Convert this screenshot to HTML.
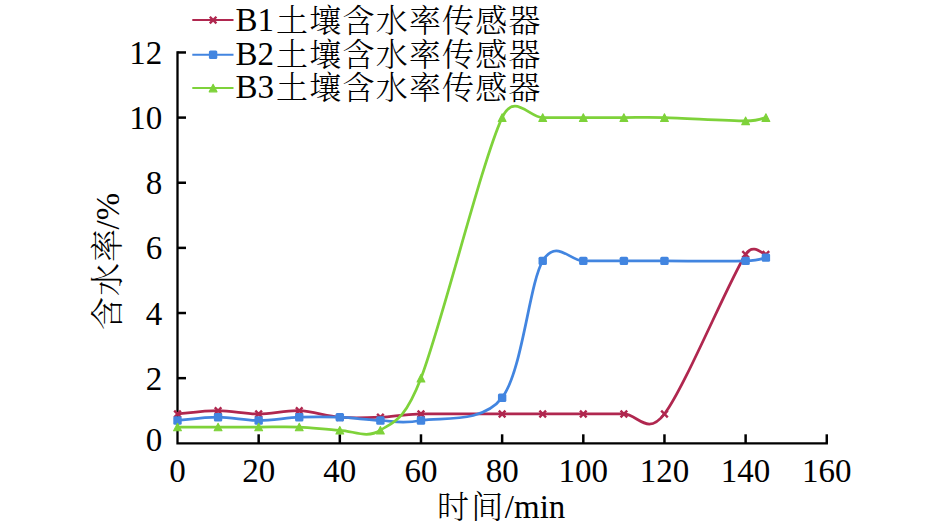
<!DOCTYPE html>
<html><head><meta charset="utf-8"><style>
html,body{margin:0;padding:0;background:#fff;}
svg{display:block;}
.t{font-family:"Liberation Serif","Noto Serif CJK SC",serif;font-size:33px;fill:#000;}
.c{font-family:"Liberation Serif","Noto Serif CJK SC",serif;font-size:33px;font-weight:300;fill:#000;}
</style></head><body>
<svg width="945" height="529" viewBox="0 0 945 529">
<path d="M177.5,52.46 V443.3 H826.78" stroke="#000" stroke-width="2.3" fill="none" stroke-linecap="square"/>
<path d="M177.5,378.16 H186.0" stroke="#000" stroke-width="2.5"/>
<path d="M177.5,313.02 H186.0" stroke="#000" stroke-width="2.5"/>
<path d="M177.5,247.88 H186.0" stroke="#000" stroke-width="2.5"/>
<path d="M177.5,182.74 H186.0" stroke="#000" stroke-width="2.5"/>
<path d="M177.5,117.60 H186.0" stroke="#000" stroke-width="2.5"/>
<path d="M177.5,52.46 H186.0" stroke="#000" stroke-width="2.5"/>
<path d="M258.66,443.3 V434.30" stroke="#000" stroke-width="2.5"/>
<path d="M339.82,443.3 V434.30" stroke="#000" stroke-width="2.5"/>
<path d="M420.98,443.3 V434.30" stroke="#000" stroke-width="2.5"/>
<path d="M502.14,443.3 V434.30" stroke="#000" stroke-width="2.5"/>
<path d="M583.30,443.3 V434.30" stroke="#000" stroke-width="2.5"/>
<path d="M664.46,443.3 V434.30" stroke="#000" stroke-width="2.5"/>
<path d="M745.62,443.3 V434.30" stroke="#000" stroke-width="2.5"/>
<path d="M826.78,443.3 V434.30" stroke="#000" stroke-width="2.5"/>
<path d="M177.50,413.99 C184.26,413.44 204.55,410.73 218.08,410.73 C231.61,410.73 245.13,413.99 258.66,413.99 C272.19,413.99 285.71,410.19 299.24,410.73 C312.77,411.27 326.29,416.16 339.82,417.24 C353.35,418.33 366.87,417.79 380.40,417.24 C393.93,416.70 400.69,414.53 420.98,413.99 C441.27,413.44 481.85,413.99 502.14,413.99 C522.43,413.99 529.19,413.99 542.72,413.99 C556.25,413.99 569.77,413.99 583.30,413.99 C596.83,413.99 610.35,413.99 623.88,413.99 C637.41,413.99 647.23,436.57 664.46,413.99 C684.75,387.39 728.71,280.99 745.62,254.39 C753.24,242.41 762.53,254.39 765.91,254.39" stroke="#B0274F" stroke-width="2.75" fill="none" stroke-linejoin="round"/>
<path d="M174.20,410.69L180.80,417.29M174.20,417.29L180.80,410.69" stroke="#B0274F" stroke-width="2.4" fill="none"/>
<path d="M214.78,407.43L221.38,414.03M214.78,414.03L221.38,407.43" stroke="#B0274F" stroke-width="2.4" fill="none"/>
<path d="M255.36,410.69L261.96,417.29M255.36,417.29L261.96,410.69" stroke="#B0274F" stroke-width="2.4" fill="none"/>
<path d="M295.94,407.43L302.54,414.03M295.94,414.03L302.54,407.43" stroke="#B0274F" stroke-width="2.4" fill="none"/>
<path d="M336.52,413.94L343.12,420.54M336.52,420.54L343.12,413.94" stroke="#B0274F" stroke-width="2.4" fill="none"/>
<path d="M377.10,413.94L383.70,420.54M377.10,420.54L383.70,413.94" stroke="#B0274F" stroke-width="2.4" fill="none"/>
<path d="M417.68,410.69L424.28,417.29M417.68,417.29L424.28,410.69" stroke="#B0274F" stroke-width="2.4" fill="none"/>
<path d="M498.84,410.69L505.44,417.29M498.84,417.29L505.44,410.69" stroke="#B0274F" stroke-width="2.4" fill="none"/>
<path d="M539.42,410.69L546.02,417.29M539.42,417.29L546.02,410.69" stroke="#B0274F" stroke-width="2.4" fill="none"/>
<path d="M580.00,410.69L586.60,417.29M580.00,417.29L586.60,410.69" stroke="#B0274F" stroke-width="2.4" fill="none"/>
<path d="M620.58,410.69L627.18,417.29M620.58,417.29L627.18,410.69" stroke="#B0274F" stroke-width="2.4" fill="none"/>
<path d="M661.16,410.69L667.76,417.29M661.16,417.29L667.76,410.69" stroke="#B0274F" stroke-width="2.4" fill="none"/>
<path d="M742.32,251.09L748.92,257.69M742.32,257.69L748.92,251.09" stroke="#B0274F" stroke-width="2.4" fill="none"/>
<path d="M762.61,251.09L769.21,257.69M762.61,257.69L769.21,251.09" stroke="#B0274F" stroke-width="2.4" fill="none"/>
<path d="M177.50,420.50 C184.26,419.96 204.55,417.24 218.08,417.24 C231.61,417.24 245.13,420.50 258.66,420.50 C272.19,420.50 285.71,417.79 299.24,417.24 C312.77,416.70 326.29,416.70 339.82,417.24 C353.35,417.79 366.87,419.96 380.40,420.50 C393.93,421.04 400.69,424.30 420.98,420.50 C441.27,416.70 481.85,424.30 502.14,397.70 C522.43,371.10 529.19,283.71 542.72,260.91 C556.25,238.11 569.77,260.91 583.30,260.91 C596.83,260.91 610.35,260.91 623.88,260.91 C637.41,260.91 644.17,260.91 664.46,260.91 C684.75,260.91 728.71,261.45 745.62,260.91 C760.00,260.45 762.53,258.19 765.91,257.65" stroke="#4285E0" stroke-width="2.75" fill="none" stroke-linejoin="round"/>
<rect x="173.30" y="416.30" width="8.4" height="8.4" rx="1.5" fill="#4285E0"/>
<rect x="213.88" y="413.04" width="8.4" height="8.4" rx="1.5" fill="#4285E0"/>
<rect x="254.46" y="416.30" width="8.4" height="8.4" rx="1.5" fill="#4285E0"/>
<rect x="295.04" y="413.04" width="8.4" height="8.4" rx="1.5" fill="#4285E0"/>
<rect x="335.62" y="413.04" width="8.4" height="8.4" rx="1.5" fill="#4285E0"/>
<rect x="376.20" y="416.30" width="8.4" height="8.4" rx="1.5" fill="#4285E0"/>
<rect x="416.78" y="416.30" width="8.4" height="8.4" rx="1.5" fill="#4285E0"/>
<rect x="497.94" y="393.50" width="8.4" height="8.4" rx="1.5" fill="#4285E0"/>
<rect x="538.52" y="256.71" width="8.4" height="8.4" rx="1.5" fill="#4285E0"/>
<rect x="579.10" y="256.71" width="8.4" height="8.4" rx="1.5" fill="#4285E0"/>
<rect x="619.68" y="256.71" width="8.4" height="8.4" rx="1.5" fill="#4285E0"/>
<rect x="660.26" y="256.71" width="8.4" height="8.4" rx="1.5" fill="#4285E0"/>
<rect x="741.42" y="256.71" width="8.4" height="8.4" rx="1.5" fill="#4285E0"/>
<rect x="761.71" y="253.45" width="8.4" height="8.4" rx="1.5" fill="#4285E0"/>
<path d="M177.50,427.01 C184.26,427.01 204.55,427.01 218.08,427.01 C231.61,427.01 245.13,427.01 258.66,427.01 C272.19,427.01 285.71,426.47 299.24,427.01 C312.77,427.56 326.29,429.73 339.82,430.27 C353.35,430.81 366.87,438.96 380.40,430.27 C393.93,421.59 404.21,421.24 420.98,378.16 C441.27,326.05 481.85,161.03 502.14,117.60 C514.16,91.86 529.19,117.60 542.72,117.60 C556.25,117.60 569.77,117.60 583.30,117.60 C596.83,117.60 610.35,117.60 623.88,117.60 C637.41,117.60 644.17,117.06 664.46,117.60 C684.75,118.14 728.71,120.86 745.62,120.86 C760.00,120.86 762.53,118.14 765.91,117.60" stroke="#7ED23A" stroke-width="2.75" fill="none" stroke-linejoin="round"/>
<path d="M177.50,423.21L181.40,430.81L173.60,430.81Z" fill="#7ED23A" stroke="#7ED23A" stroke-width="1.1" stroke-linejoin="round"/>
<path d="M218.08,423.21L221.98,430.81L214.18,430.81Z" fill="#7ED23A" stroke="#7ED23A" stroke-width="1.1" stroke-linejoin="round"/>
<path d="M258.66,423.21L262.56,430.81L254.76,430.81Z" fill="#7ED23A" stroke="#7ED23A" stroke-width="1.1" stroke-linejoin="round"/>
<path d="M299.24,423.21L303.14,430.81L295.34,430.81Z" fill="#7ED23A" stroke="#7ED23A" stroke-width="1.1" stroke-linejoin="round"/>
<path d="M339.82,426.47L343.72,434.07L335.92,434.07Z" fill="#7ED23A" stroke="#7ED23A" stroke-width="1.1" stroke-linejoin="round"/>
<path d="M380.40,426.47L384.30,434.07L376.50,434.07Z" fill="#7ED23A" stroke="#7ED23A" stroke-width="1.1" stroke-linejoin="round"/>
<path d="M420.98,374.36L424.88,381.96L417.08,381.96Z" fill="#7ED23A" stroke="#7ED23A" stroke-width="1.1" stroke-linejoin="round"/>
<path d="M502.14,113.80L506.04,121.40L498.24,121.40Z" fill="#7ED23A" stroke="#7ED23A" stroke-width="1.1" stroke-linejoin="round"/>
<path d="M542.72,113.80L546.62,121.40L538.82,121.40Z" fill="#7ED23A" stroke="#7ED23A" stroke-width="1.1" stroke-linejoin="round"/>
<path d="M583.30,113.80L587.20,121.40L579.40,121.40Z" fill="#7ED23A" stroke="#7ED23A" stroke-width="1.1" stroke-linejoin="round"/>
<path d="M623.88,113.80L627.78,121.40L619.98,121.40Z" fill="#7ED23A" stroke="#7ED23A" stroke-width="1.1" stroke-linejoin="round"/>
<path d="M664.46,113.80L668.36,121.40L660.56,121.40Z" fill="#7ED23A" stroke="#7ED23A" stroke-width="1.1" stroke-linejoin="round"/>
<path d="M745.62,117.06L749.52,124.66L741.72,124.66Z" fill="#7ED23A" stroke="#7ED23A" stroke-width="1.1" stroke-linejoin="round"/>
<path d="M765.91,113.80L769.81,121.40L762.01,121.40Z" fill="#7ED23A" stroke="#7ED23A" stroke-width="1.1" stroke-linejoin="round"/>
<text x="162.3" y="451.30" text-anchor="end" class="t">0</text>
<text x="162.3" y="389.66" text-anchor="end" class="t">2</text>
<text x="162.3" y="324.52" text-anchor="end" class="t">4</text>
<text x="162.3" y="259.38" text-anchor="end" class="t">6</text>
<text x="162.3" y="194.24" text-anchor="end" class="t">8</text>
<text x="162.3" y="129.10" text-anchor="end" class="t">10</text>
<text x="162.3" y="63.96" text-anchor="end" class="t">12</text>
<text x="177.50" y="481.7" text-anchor="middle" class="t">0</text>
<text x="258.66" y="481.7" text-anchor="middle" class="t">20</text>
<text x="339.82" y="481.7" text-anchor="middle" class="t">40</text>
<text x="420.98" y="481.7" text-anchor="middle" class="t">60</text>
<text x="502.14" y="481.7" text-anchor="middle" class="t">80</text>
<text x="583.30" y="481.7" text-anchor="middle" class="t">100</text>
<text x="664.46" y="481.7" text-anchor="middle" class="t">120</text>
<text x="745.62" y="481.7" text-anchor="middle" class="t">140</text>
<text x="826.78" y="481.7" text-anchor="middle" class="t">160</text>
<path d="M192.3,20.05 H233.5" stroke="#B0274F" stroke-width="2"/>
<path d="M209.80,16.75L216.40,23.35M209.80,23.35L216.40,16.75" stroke="#B0274F" stroke-width="2.4" fill="none"/>
<text x="235.5" y="31.00" class="t">B1</text>
<text x="276.1" y="32.30" class="c" style="font-size:32px;letter-spacing:1.2px">土壤含水率传感器</text>
<path d="M192.3,54.7 H233.5" stroke="#4285E0" stroke-width="2"/>
<rect x="208.90" y="50.50" width="8.4" height="8.4" rx="1.5" fill="#4285E0"/>
<text x="235.5" y="65.00" class="t">B2</text>
<text x="276.1" y="66.30" class="c" style="font-size:32px;letter-spacing:1.2px">土壤含水率传感器</text>
<path d="M192.3,88.05 H233.5" stroke="#7ED23A" stroke-width="2"/>
<path d="M213.10,84.25L217.00,91.85L209.20,91.85Z" fill="#7ED23A" stroke="#7ED23A" stroke-width="1.1" stroke-linejoin="round"/>
<text x="235.5" y="98.00" class="t">B3</text>
<text x="276.1" y="99.30" class="c" style="font-size:32px;letter-spacing:1.2px">土壤含水率传感器</text>
<text x="437.0" y="518.0" class="c" style="font-size:32px;letter-spacing:2.2px">时间</text>
<text x="504.8" y="518.3" class="t">/min</text>
<text transform="translate(118.5,330.0) rotate(-90)" x="0" y="0" class="c" style="font-size:33px;letter-spacing:1.0px">含水率</text>
<text transform="translate(118.5,229.5) rotate(-90)" x="0" y="0" class="t">/%</text>
</svg>
</body></html>
